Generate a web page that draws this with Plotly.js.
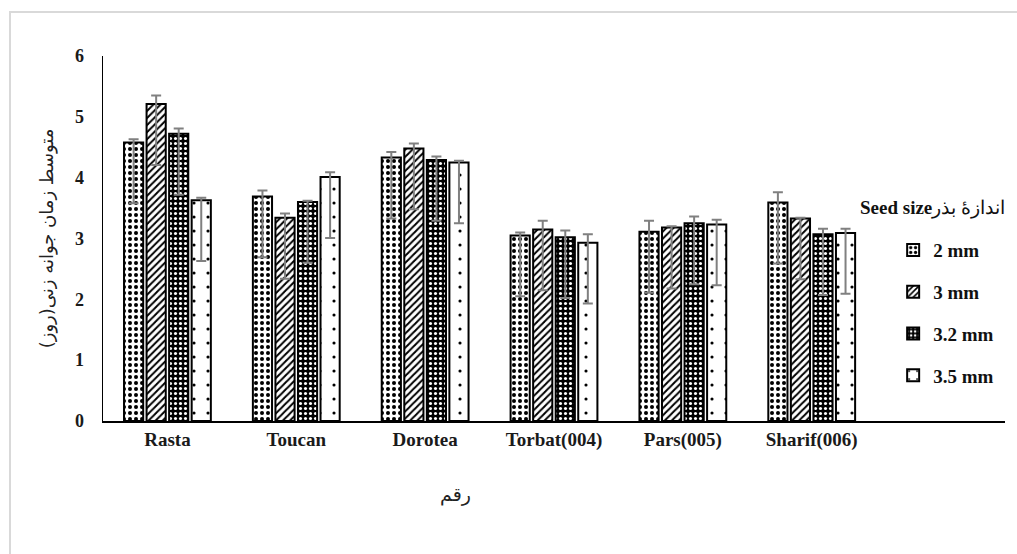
<!DOCTYPE html>
<html>
<head>
<meta charset="utf-8">
<script src="https://cdn.plot.ly/plotly-3.0.1.min.js"></script>
<style>html,body{margin:0;padding:0;background:#fff;}#chart{width:1017px;height:554px;}</style>
</head>
<body>
<div id="chart"></div>
<script>
const categories = ['Rasta', 'Toucan', 'Dorotea', 'Torbat(004)', 'Pars(005)', 'Sharif(006)'];
const seriesNames = ['2 mm', '3 mm', '3.2 mm', '3.5 mm'];
const size2 = [4.58, 3.69, 4.33, 3.05, 3.11, 3.59];
const size3 = [5.21, 3.34, 4.48, 3.15, 3.18, 3.33];
const size32 = [4.72, 3.60, 4.29, 3.02, 3.25, 3.07];
const size35 = [3.63, 4.01, 4.25, 2.93, 3.23, 3.09];
const errPlus2 = [0.05, 0.10, 0.09, 0.05, 0.18, 0.17];
const errPlus3 = [0.14, 0.07, 0.08, 0.14, 0.02, 0.01];
const errPlus32 = [0.09, 0.02, 0.06, 0.11, 0.11, 0.09];
const errPlus35 = [0.04, 0.08, 0.03, 0.14, 0.08, 0.07];
const errMinus2 = [1.0, 1.0, 1.0, 1.0, 1.0, 1.0];
const errMinus3 = [1.0, 1.0, 1.0, 1.0, 1.0, 1.0];
const errMinus32 = [1.0, 1.0, 1.0, 1.0, 1.0, 1.0];
const errMinus35 = [1.0, 1.0, 1.0, 1.0, 1.0, 1.0];
const yTicks = [0, 1, 2, 3, 4, 5, 6];

const xIdx = categories.map((c, i) => i);
const serif = 'Liberation Serif, DejaVu Serif, serif';
const arab = 'DejaVu Sans, Noto Sans, sans-serif';

const styles = [
  {bg: '#ffffff', fg: '#000000', shape: '.', size: 6, sol: 0.35},
  {bg: '#ffffff', fg: '#000000', shape: '/', size: 5, sol: 0.4},
  {bg: '#000000', fg: '#ffffff', shape: '.', size: 5, sol: 0.3},
  {bg: '#ffffff', fg: '#000000', shape: '.', size: 14, sol: 0.04}
];
const vals = [size2, size3, size32, size35];
const plus = [errPlus2, errPlus3, errPlus32, errPlus35];
const minus = [errMinus2, errMinus3, errMinus32, errMinus35];

const traces = seriesNames.map((n, k) => ({
  type: 'bar',
  name: n,
  legendgroup: 'g' + k,
  x: xIdx,
  y: vals[k],
  marker: {
    color: styles[k].bg,
    line: {color: '#000000', width: 2},
    pattern: {shape: styles[k].shape, fgcolor: styles[k].fg, bgcolor: styles[k].bg,
              size: styles[k].size, solidity: styles[k].sol, fillmode: 'replace'}
  },
  error_y: {type: 'data', symmetric: false, array: plus[k], arrayminus: minus[k],
            color: '#808080', thickness: 2, width: 5}
}));

const layout = {
  width: 1017, height: 554,
  margin: {l: 103, r: 12, t: 56, b: 133},
  paper_bgcolor: '#ffffff', plot_bgcolor: 'rgba(0,0,0,0)',
  barmode: 'group', bargap: 0.3, bargroupgap: 0.15,
  showlegend: true,
  legend: {x: 0.876, xanchor: 'left', y: 0.52, yanchor: 'top', bgcolor: 'rgba(0,0,0,0)',
           font: {family: serif, size: 19, color: '#111', weight: 'bold'}, tracegroupgap: 14, traceorder: 'grouped'},
  xaxis: {
    range: [-0.5, 6.5], tickvals: xIdx, ticktext: categories,
    showline: true, linecolor: '#000', linewidth: 2, showgrid: false, zeroline: false,
    ticks: '', tickfont: {family: serif, size: 19, color: '#1a1a1a', weight: 'bold'}
  },
  yaxis: {
    range: [0, 6], tickvals: yTicks, showline: true, linecolor: '#000', linewidth: 1.5,
    showgrid: false, zeroline: false, ticks: '', ticklabelstandoff: 14,
    tickfont: {family: serif, size: 18, color: '#1a1a1a', weight: 'bold'},
    title: {text: 'متوسط زمان جوانه زنی(روز)', font: {family: arab, size: 18, color: '#222'}, standoff: 16}
  },
  annotations: [
    {xref: 'paper', yref: 'paper', x: (455 - 103) / 902, y: (421 - 494) / 365, xanchor: 'center', yanchor: 'middle',
     text: 'رقم', showarrow: false, font: {family: arab, size: 19, color: '#222'}},
    {xref: 'paper', yref: 'paper', x: (858 - 103) / 902, y: (421 - 208) / 365, xanchor: 'left', yanchor: 'middle',
     text: '<b>Seed size</b>اندازهٔ بذر', showarrow: false, font: {family: serif, size: 19, color: '#111'}}
  ],
  shapes: [
    {type: 'rect', xref: 'paper', yref: 'paper', x0: (10 - 103) / 902, x1: 1.05, y0: -0.5, y1: (421 - 12) / 365,
     line: {color: '#d9d9d9', width: 2}, fillcolor: 'rgba(0,0,0,0)', layer: 'below'}
  ]
};

Plotly.newPlot('chart', traces, layout, {displayModeBar: false, staticPlot: true});
</script>
</body>
</html>
